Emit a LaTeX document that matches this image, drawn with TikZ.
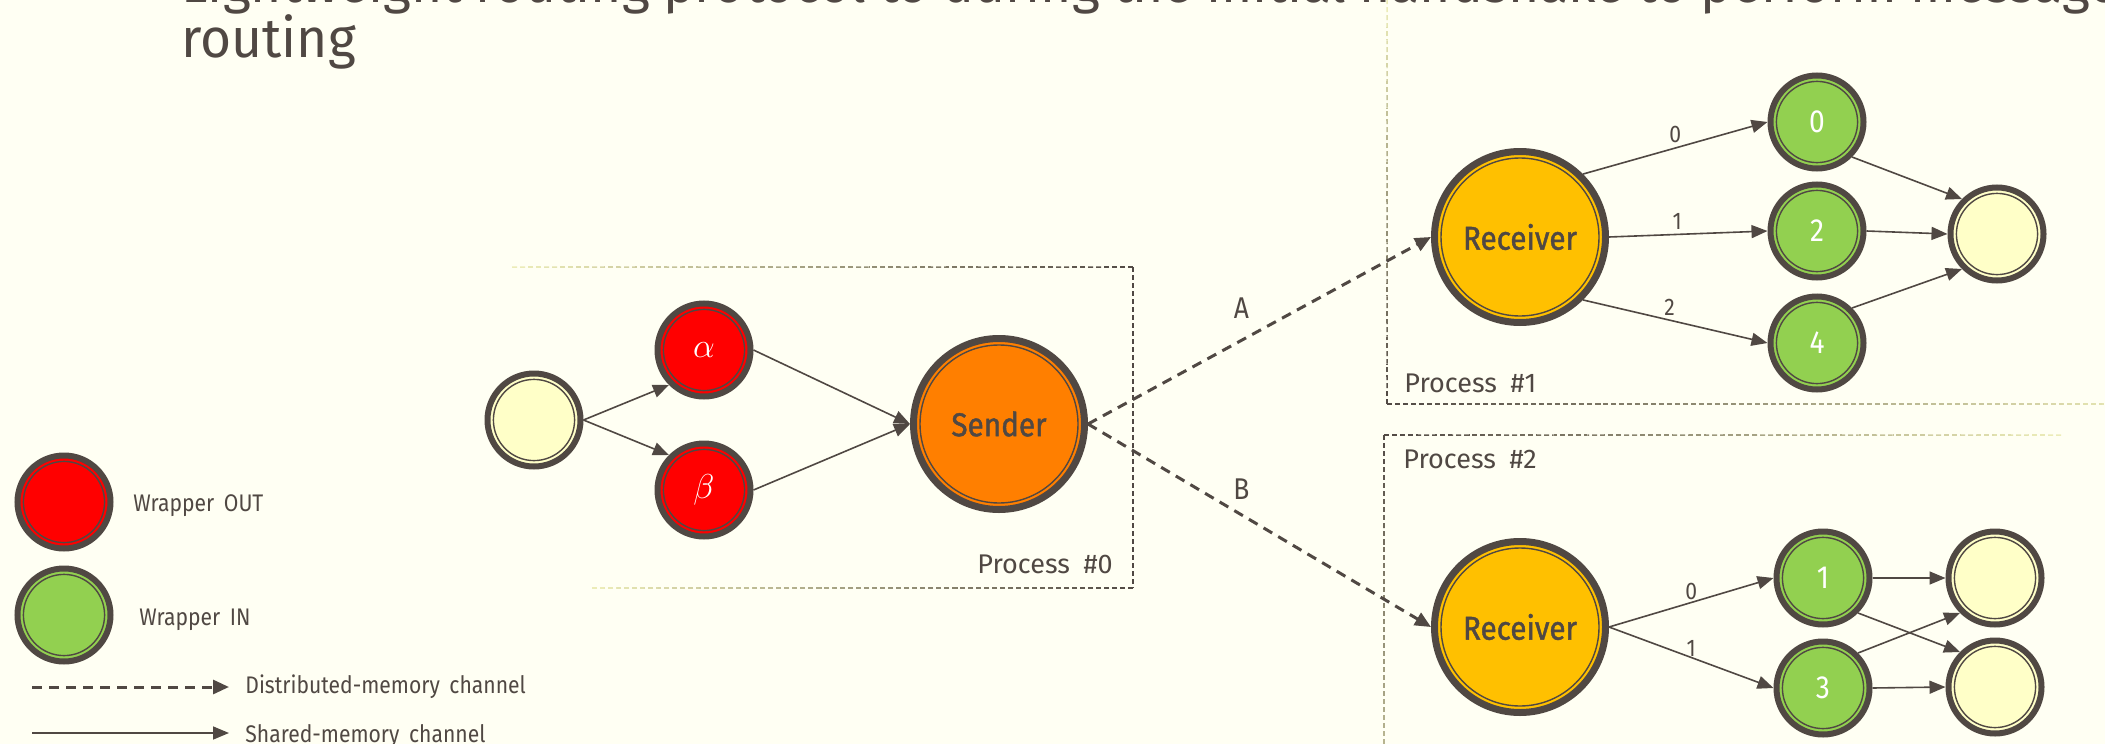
\documentclass[tikz,border=0pt]{standalone}
\usepackage{fontspec}
\setmainfont{Fira Sans}[FakeStretch=0.88, WordSpace=1.7]
\newfontfamily\headfont{Fira Sans}[FakeStretch=0.97, WordSpace=0.95]
\newfontfamily\procfont{Fira Sans}[WordSpace=1.9]
\newfontfamily\namefont{Fira Sans}[FakeStretch=0.9, FakeBold=1.3]
\usetikzlibrary{arrows.meta,calc}

\definecolor{paper}{RGB}{255,255,243}
\definecolor{ink}{RGB}{80,72,67}
\definecolor{wash}{RGB}{238,238,185}
\definecolor{outred}{RGB}{255,0,0}
\definecolor{ingreen}{RGB}{146,208,80}
\definecolor{sendorange}{RGB}{255,127,0}
\definecolor{recvgold}{RGB}{255,192,0}
\definecolor{sinkyellow}{RGB}{255,255,200}

% dashed border line that fades from ink at (#1,#2) to a pale wash at (#3,#4), in #5 pieces
\newcommand\fadedash[5]{%
  \foreach \k in {1,...,#5}{%
    \pgfmathsetmacro\ta{(\k-1)/#5}%
    \pgfmathsetmacro\tb{\k/#5}%
    \pgfmathtruncatemacro\pc{100*(1-(\k-0.5)/#5)}%
    \pgfmathsetmacro\ph{mod(0.5*veclen(#3-#1,#4-#2)*\ta,4)}%
    \draw[ink!\pc!wash, line width=0.75pt, dash pattern=on 2.5pt off 1.5pt, dash phase=\ph pt]
      ($(#1,#2)!\ta!(#3,#4)$) -- ($(#1,#2)!\tb!(#3,#4)$);
  }}

\begin{document}
\begin{tikzpicture}[x=0.5pt, y=-0.5pt,
  small/.style={circle, draw=ink, line width=3pt, minimum size=46.5pt, inner sep=0pt,
    font=\fontsize{16}{16}\selectfont, text=white,
    path picture={\draw[ink, line width=0.7pt] (path picture bounding box.center) circle[radius=20.3pt];}},
  big/.style={circle, draw=ink, line width=3.5pt, minimum size=85.5pt, inner sep=0pt,
    font=\namefont\fontsize{16.5}{17}\selectfont, text=ink,
    path picture={\draw[ink, line width=0.7pt] (path picture bounding box.center) circle[radius=39.5pt];}},
  greek/.style={font=\fontsize{18}{18}\selectfont},
  shm/.style={draw=ink, line width=0.8pt, -{Triangle[length=8pt, width=6.5pt]}},
  dsm/.style={draw=ink, line width=1.5pt, dash pattern=on 5pt off 3.5pt, -{Triangle[length=8pt, width=7pt]}},
  edgelbl/.style={inner sep=0pt, font=\fontsize{12}{12}\selectfont, text=ink},
  chanlbl/.style={inner sep=0pt, font=\fontsize{15}{15}\selectfont, text=ink},
  legtext/.style={inner sep=0pt, font=\fontsize{12}{12}\selectfont, text=ink},
  proctext/.style={inner sep=0pt, font=\procfont\fontsize{13.5}{14}\selectfont, text=ink},
]
\useasboundingbox (0,0) rectangle (2105,744);
\fill[paper] (0,0) rectangle (2105,744);
\clip (0,0) rectangle (2105,744);

% title
\node[anchor=base west, inner sep=0pt, font=\headfont\fontsize{27.5}{27}\selectfont, text=ink]
  (title1) at (181,3) {Lightweight routing protocol to during the initial handshake to perform message};
\node[anchor=base west, inner sep=0pt, font=\headfont\fontsize{27.5}{27}\selectfont, text=ink]
  (title2) at (181,57) {routing};

% process frames
\fadedash{1133}{267}{511}{267}{40}
\draw[ink, line width=0.75pt, dash pattern=on 2.5pt off 1.5pt] (1133,267) -- (1133,588);
\fadedash{1133}{588}{590}{588}{40}
\node[proctext, anchor=base east] (p0) at (1113,573) {Process \#0};

\fadedash{1387}{404}{1387}{0}{30}
\fadedash{1387}{404}{2160}{404}{40}
\node[proctext, anchor=base west] (p1) at (1404,392) {Process \#1};

\fadedash{1384}{435}{2062}{435}{40}
\fadedash{1384}{435}{1384}{900}{30}
\node[proctext, anchor=base west] (p2) at (1403,468) {Process \#2};

% process 0
\node[small, fill=sinkyellow] (start) at (534,420) {};
\node[small, greek, fill=outred] (alpha) at (704,350) {$\alpha$};
\node[small, greek, fill=outred] (beta) at (704,490) {$\beta$};
\node[big, fill=sendorange] (sender) at (999,424) {Sender};

% process 1
\node[big, fill=recvgold] (recvA) at (1520,237) {Receiver};
\node[small, fill=ingreen] (n0) at (1817,122) {0};
\node[small, fill=ingreen] (n2) at (1817,231) {2};
\node[small, fill=ingreen] (n4) at (1817,343) {4};
\node[small, fill=sinkyellow] (endA) at (1997,234) {};

% process 2
\node[big, fill=recvgold] (recvB) at (1520,627) {Receiver};
\node[small, fill=ingreen] (n1) at (1823,578) {1};
\node[small, fill=ingreen] (n3) at (1823,688) {3};
\node[small, fill=sinkyellow] (endB1) at (1995,578) {};
\node[small, fill=sinkyellow] (endB2) at (1995,687) {};

% shared-memory connectors
\draw[shm] (start.east) -- (alpha.south west);
\draw[shm] (start.east) -- (beta.north west);
\draw[shm] (alpha.east) -- (sender.west);
\draw[shm] (beta.east) -- (sender.west);

\draw[shm] (recvA.north east) -- node[edgelbl, midway, above=2pt] {0} (n0.west);
\draw[shm] (recvA.east) -- node[edgelbl, pos=0.43, above=2pt] {1} (n2.west);
\draw[shm] (recvA.south east) -- node[edgelbl, pos=0.47, above=2pt] {2} (n4.west);
\draw[shm] (n0.south east) -- (endA.north west);
\draw[shm] (n2.east) -- (endA.west);
\draw[shm] (n4.north east) -- (endA.south west);

\draw[shm] (recvB.east) -- node[edgelbl, midway, above=1pt] {0} (n1.west);
\draw[shm] (recvB.east) -- node[edgelbl, midway, above=0pt] {1} (n3.west);
\draw[shm] (n1.east) -- (endB1.west);
\draw[shm] (n1.south east) -- (endB2.north west);
\draw[shm] (n3.north east) -- (endB1.south west);
\draw[shm] (n3.east) -- (endB2.west);

% distributed-memory connectors
\draw[dsm] (sender.east) -- node[chanlbl, pos=0.447, above=10pt] {A} (recvA.west);
\draw[dsm] (sender.east) -- node[chanlbl, pos=0.447, above=7pt] {B} (recvB.west);

% legend
\node[small, fill=outred] (legOut) at (64,502) {};
\node[legtext, anchor=base west] (legOutTxt) at (133,511) {Wrapper OUT};
\node[small, fill=ingreen] (legIn) at (64,615) {};
\node[legtext, anchor=base west] (legInTxt) at (139,625) {Wrapper IN};
\coordinate (dA) at (32,687);
\coordinate (dB) at (229,687);
\draw[dsm] (dA) -- (dB);
\node[legtext, anchor=base west] (dTxt) at (245,693) {Distributed-memory channel};
\coordinate (sA) at (32,733);
\coordinate (sB) at (229,733);
\draw[shm] (sA) -- (sB);
\node[legtext, anchor=base west] (sTxt) at (245,742) {Shared-memory channel};
\end{tikzpicture}
\end{document}
